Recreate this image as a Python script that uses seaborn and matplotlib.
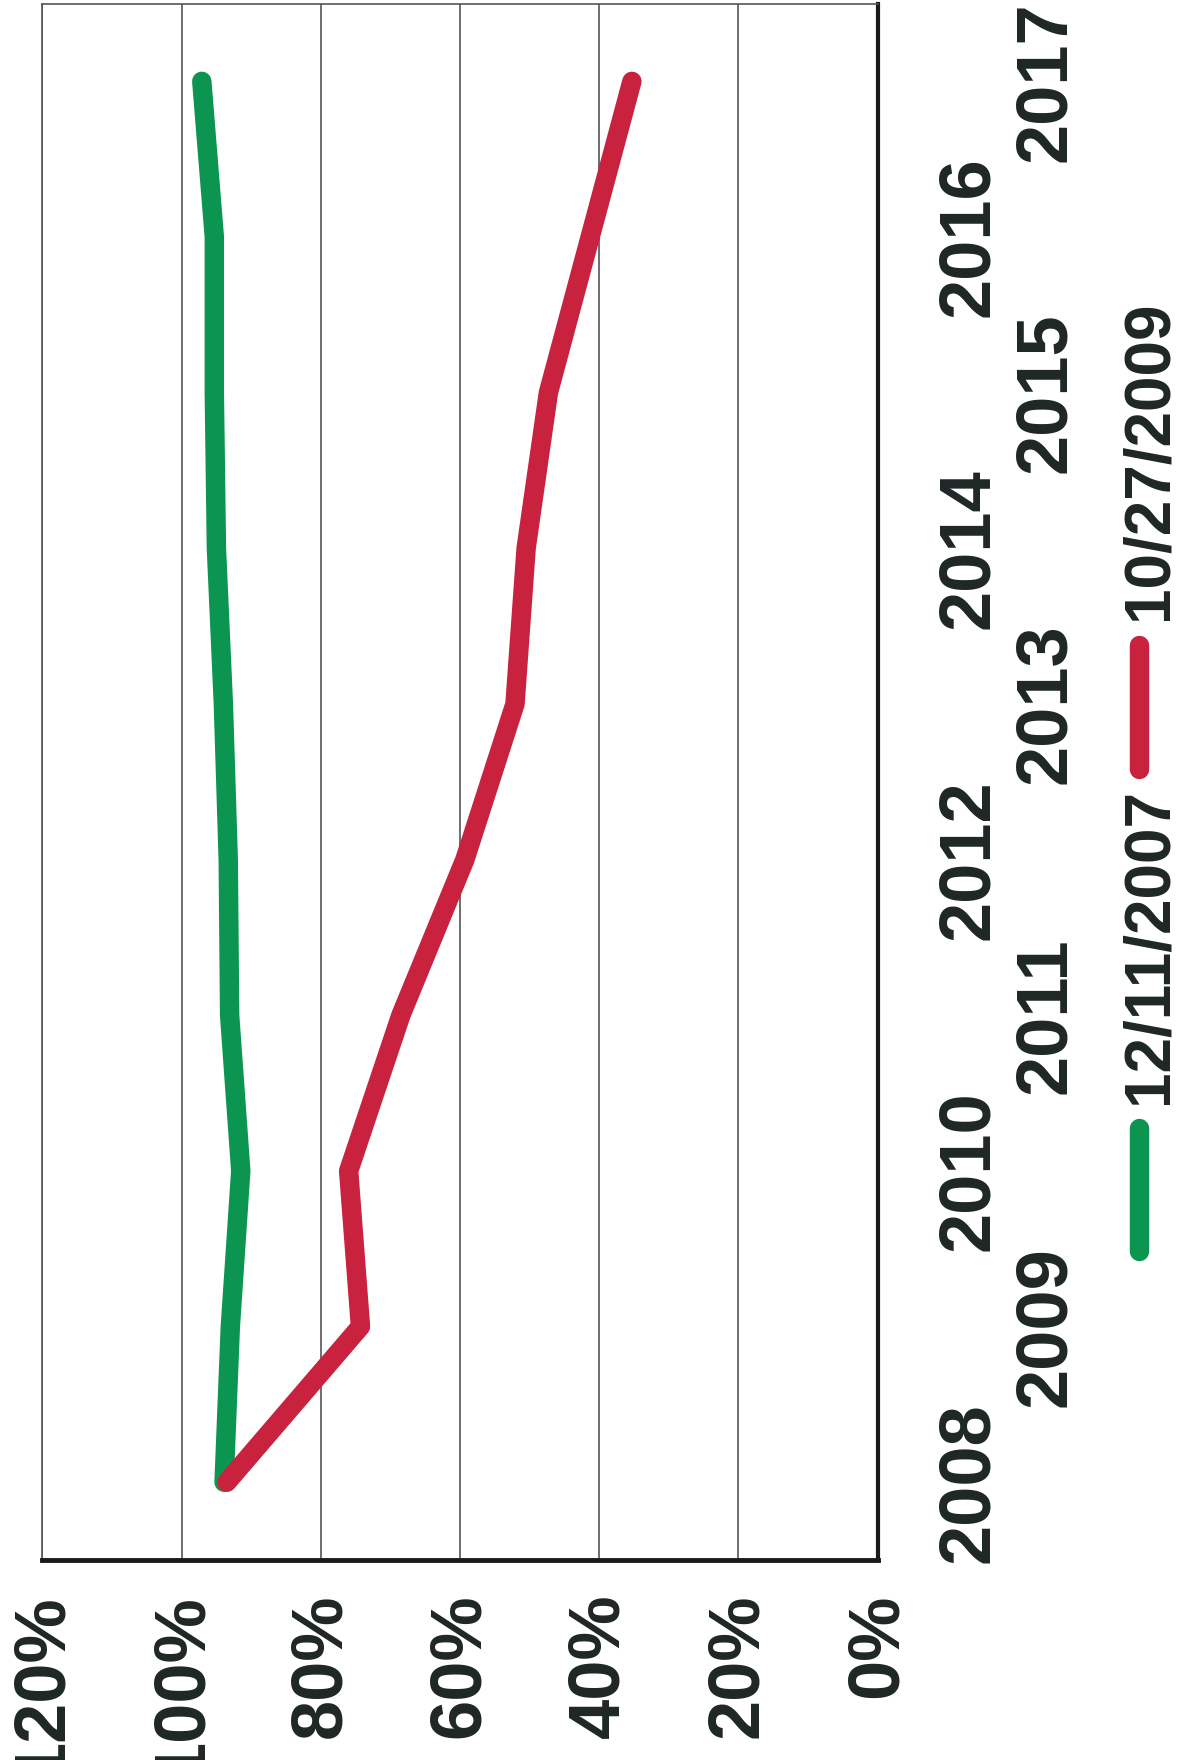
import matplotlib
matplotlib.use('Agg')
import matplotlib.pyplot as plt
import pandas as pd
import seaborn as sns
from matplotlib.lines import Line2D

years = [2008, 2009, 2010, 2011, 2012, 2013, 2014, 2015, 2016, 2017]
series_names = ['12/11/2007', '10/27/2009']
vals_2007 = [93.9, 93.0, 91.5, 93.1, 93.3, 94.0, 95.0, 95.3, 95.3, 97.1]
vals_2009 = [93.5, 74.3, 76.0, 68.5, 59.3, 52.1, 50.5, 47.3, 41.3, 35.3]
pct_ticks = [0, 20, 40, 60, 80, 100, 120]
colors = ['#0b9550', '#c8223f']

df = pd.DataFrame({
    'year': years * 2,
    'pct': vals_2007 + vals_2009,
    'series': [series_names[0]] * len(years) + [series_names[1]] * len(years),
})

sns.set_style('white')
plt.rcParams['font.family'] = ['Liberation Sans Narrow', 'Liberation Sans', 'DejaVu Sans']
txt_color = '#1e2626'
fs = 52

fig = plt.figure(figsize=(11.78, 17.6), dpi=100)
ax = fig.add_axes([0.036, 0.1136, 0.709, 0.8844])

sns.lineplot(data=df, x='pct', y='year', hue='series', orient='y', sort=True,
             palette=dict(zip(series_names, colors)), lw=14, legend=False, ax=ax)
for ln in ax.lines:
    ln.set_solid_capstyle('round')
    ln.set_solid_joinstyle('round')

# percent axis runs right to left, years bottom to top
ax.set_xlim(120, 0)
ax.set_ylim(2007.5, 2017.5)
ax.set_xticks(pct_ticks)
ax.set_xticklabels([f'{v}%' for v in pct_ticks], rotation=90, fontsize=fs,
                   fontweight='bold', color=txt_color)
ax.set_yticks(years)
ax.yaxis.tick_right()
ax.set_yticklabels([str(y) for y in years], rotation=90, va='center', ha='left',
                   fontsize=fs, fontweight='bold', color=txt_color)
ax.set_xlabel('')
ax.set_ylabel('')
ax.tick_params(length=0)
ax.tick_params(axis='x', pad=24)

ax.grid(axis='x', color='#555555', lw=1.2)
ax.grid(axis='y', visible=False)
ax.set_axisbelow(True)

for side in ['left', 'top']:
    ax.spines[side].set_color('#555555')
    ax.spines[side].set_linewidth(1.2)
ax.spines['bottom'].set_color('#1a1a1a')
ax.spines['bottom'].set_linewidth(3.5)
ax.spines['right'].set_color('#1a1a1a')
ax.spines['right'].set_linewidth(3)

# staggered year labels
for i, t in enumerate(ax.yaxis.get_major_ticks()):
    t.set_pad(41 if i % 2 == 0 else 97)

# legend, turned like the rest of the page
leg_pos = [(0.359, 0.289, 0.4625), (0.6335, 0.563, 0.7385)]
for name, col, (y0, y1, ty) in zip(series_names, colors, leg_pos):
    fig.add_artist(Line2D([0.967, 0.967], [y1, y0], transform=fig.transFigure,
                          color=col, lw=14, solid_capstyle='round'))
    fig.text(0.976, ty, name, rotation=90, ha='center', va='center',
             fontsize=46, fontweight='bold', color=txt_color)

fig.savefig('out.png', dpi=100)
